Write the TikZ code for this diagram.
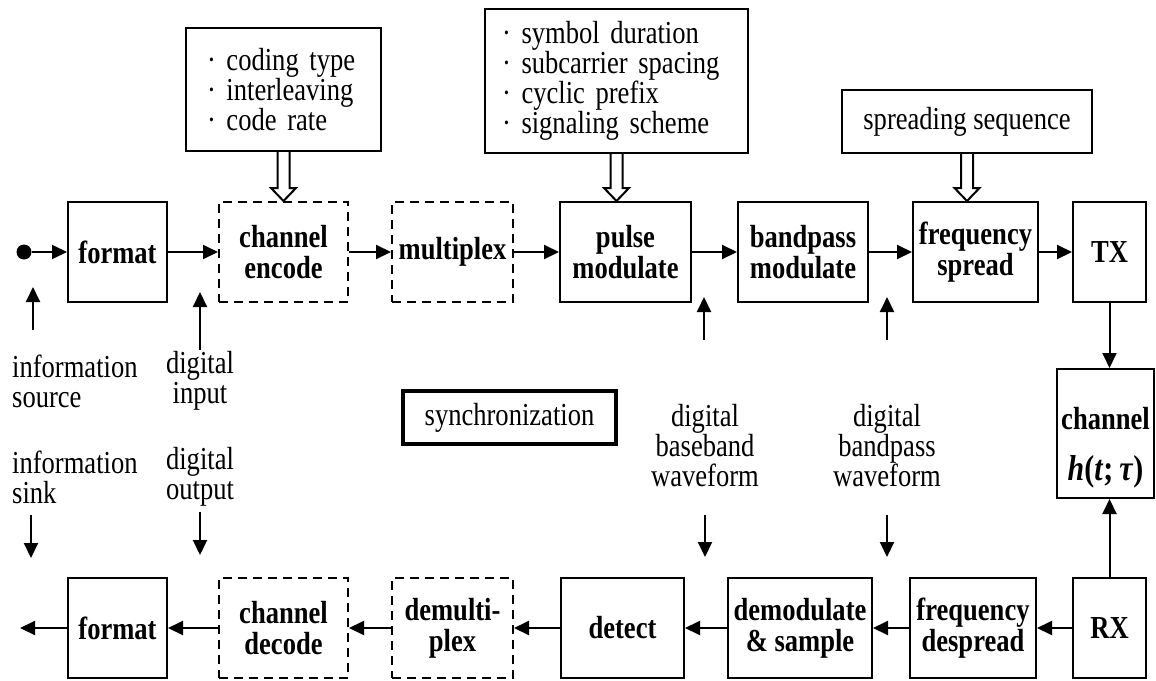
\documentclass[tikz,border=0pt]{standalone}
\usepackage{fontspec}
\setmainfont{Liberation Serif}[FakeStretch=0.83]
\usetikzlibrary{arrows.meta,calc}
\begin{document}
\begin{tikzpicture}[x=1pt,y=-1pt,
  font=\fontsize{32}{30}\selectfont,
  blk/.style={draw,line width=2pt,align=center,inner sep=0pt,
    font=\fontsize{32}{31}\selectfont\bfseries},
  dblk/.style={blk,dash pattern=on 9pt off 6pt},
  parbox/.style={draw,line width=2pt,align=left,inner sep=0pt},
  lab/.style={align=center,inner sep=0pt},
  conn/.style={line width=2pt,-{Triangle[length=15pt,width=14pt]}},
  hollow/.style={draw,line width=2pt,fill=white,line join=miter}
]
\useasboundingbox (0,0) rectangle (1156,680);

% top row
\node[blk,minimum width=99pt,minimum height=100pt] (fmt1) at (117.5,252) {format};
\node[dblk,minimum width=129pt,minimum height=100pt] (enc) at (283.5,252) {channel\\encode};
\node[dblk,minimum width=121pt,minimum height=100pt] (mux) at (452.5,252) {multiplex};
\node[blk,minimum width=131pt,minimum height=100pt] (pulse) at (625.5,252) {pulse\\modulate};
\node[blk,minimum width=130pt,minimum height=100pt] (bpm) at (803,252) {bandpass\\modulate};
\node[blk,minimum width=125pt,minimum height=100pt] (fsp) at (975.5,252) {frequency\\spread};
\node[blk,minimum width=73pt,minimum height=100pt] (tx) at (1109.5,252) {TX};

% channel
\node[blk,minimum width=97pt,minimum height=129pt] (chan) at (1105.5,433.5)
  {\rule{0pt}{50pt}channel\\[20pt]{\fontsize{36}{36}\selectfont\textit{h}(\textit{t};\,\textit{τ})}};

% bottom row
\node[blk,minimum width=99pt,minimum height=100pt] (fmt2) at (117.5,628) {format};
\node[dblk,minimum width=129pt,minimum height=100pt] (dec) at (283.5,628) {channel\\decode};
\node[dblk,minimum width=121pt,minimum height=100pt] (demux) at (452.5,628) {demulti-\\plex};
\node[blk,minimum width=123pt,minimum height=100pt] (det) at (622.5,628) {detect};
\node[blk,minimum width=144pt,minimum height=100pt] (dem) at (800,628) {demodulate\\\& sample};
\node[blk,minimum width=126pt,minimum height=100pt] (fds) at (973,628) {frequency\\despread};
\node[blk,minimum width=73pt,minimum height=100pt] (rx) at (1109.5,628) {RX};

% parameter boxes
\node[parbox,minimum width=195pt,minimum height=123pt,text width=153pt] (code) at (283.5,89.5)
  {· coding type\\· interleaving\\· code rate};
\node[parbox,minimum width=263pt,minimum height=144pt,text width=229pt] (sym) at (616.5,81)
  {· symbol duration\\· subcarrier spacing\\· cyclic prefix\\· signaling scheme};
\node[parbox,align=center,minimum width=250pt,minimum height=63pt] (spr) at (967,121.5)
  {spreading sequence};

% synchronization
\node[draw,line width=4.5pt,minimum width=213pt,minimum height=53pt,inner sep=0pt] (sync) at (509.5,417.5) {synchronization};

% hollow arrows
\coordinate (t1) at (code.south |- enc.north);
\coordinate (t2) at (sym.south |- pulse.north);
\coordinate (t3) at (spr.south |- fsp.north);
\foreach \s/\t in {code/t1,sym/t2,spr/t3}{
  \draw[hollow] ($(\s.south)+(-6,0)$) -- ($(\t)+(-6,-13)$) -- ($(\t)+(-12.5,-13)$) -- (\t)
    -- ($(\t)+(12.5,-13)$) -- ($(\t)+(6,-13)$) -- ($(\s.south)+(6,0)$);
}

% source dot and top connectors
\node[circle,fill,inner sep=0pt,minimum size=15pt] (src) at (24,252) {};
\draw[conn] (src.east) -- (fmt1.west);
\draw[conn] (fmt1) -- (enc);
\draw[conn] (enc) -- (mux);
\draw[conn] (mux) -- (pulse);
\draw[conn] (pulse) -- (bpm);
\draw[conn] (bpm) -- (fsp);
\draw[conn] (fsp) -- (tx);
\draw[conn] (tx.south) -- (tx.south |- chan.north);
\draw[conn] (rx.north) -- (rx.north |- chan.south);

% bottom connectors
\coordinate (out) at (20,628);
\draw[conn] (rx) -- (fds);
\draw[conn] (fds) -- (dem);
\draw[conn] (dem) -- (det);
\draw[conn] (det) -- (demux);
\draw[conn] (demux) -- (dec);
\draw[conn] (dec) -- (fmt2);
\draw[conn] (fmt2.west) -- (out);

% labels
\node[lab,align=left,anchor=west] (srcl) at (12,381) {information\\source};
\node[lab] (dinl) at (200,381) {digital\\input};
\node[lab,align=left,anchor=west] (sinkl) at (12,477) {information\\sink};
\node[lab] (doutl) at (200,477) {digital\\output};
\node[lab] (bbl) at (705,446) {digital\\baseband\\waveform};
\node[lab] (bpl) at (887,446) {digital\\bandpass\\waveform};

% free arrows
\coordinate (u1a) at (33,330);  \coordinate (u1b) at (33,287);
\coordinate (u2a) at (200,350); \coordinate (u2b) at (200,292);
\coordinate (u3a) at (704,340); \coordinate (u3b) at (704,297);
\coordinate (u4a) at (887,340); \coordinate (u4b) at (887,297);
\coordinate (d1a) at (31,515);  \coordinate (d1b) at (31,558);
\coordinate (d2a) at (200,512); \coordinate (d2b) at (200,555);
\coordinate (d3a) at (705,515); \coordinate (d3b) at (705,557);
\coordinate (d4a) at (887,515); \coordinate (d4b) at (887,557);
\foreach \a in {u1,u2,u3,u4,d1,d2,d3,d4}{
  \draw[conn] (\a a) -- (\a b);
}
\end{tikzpicture}
\end{document}
